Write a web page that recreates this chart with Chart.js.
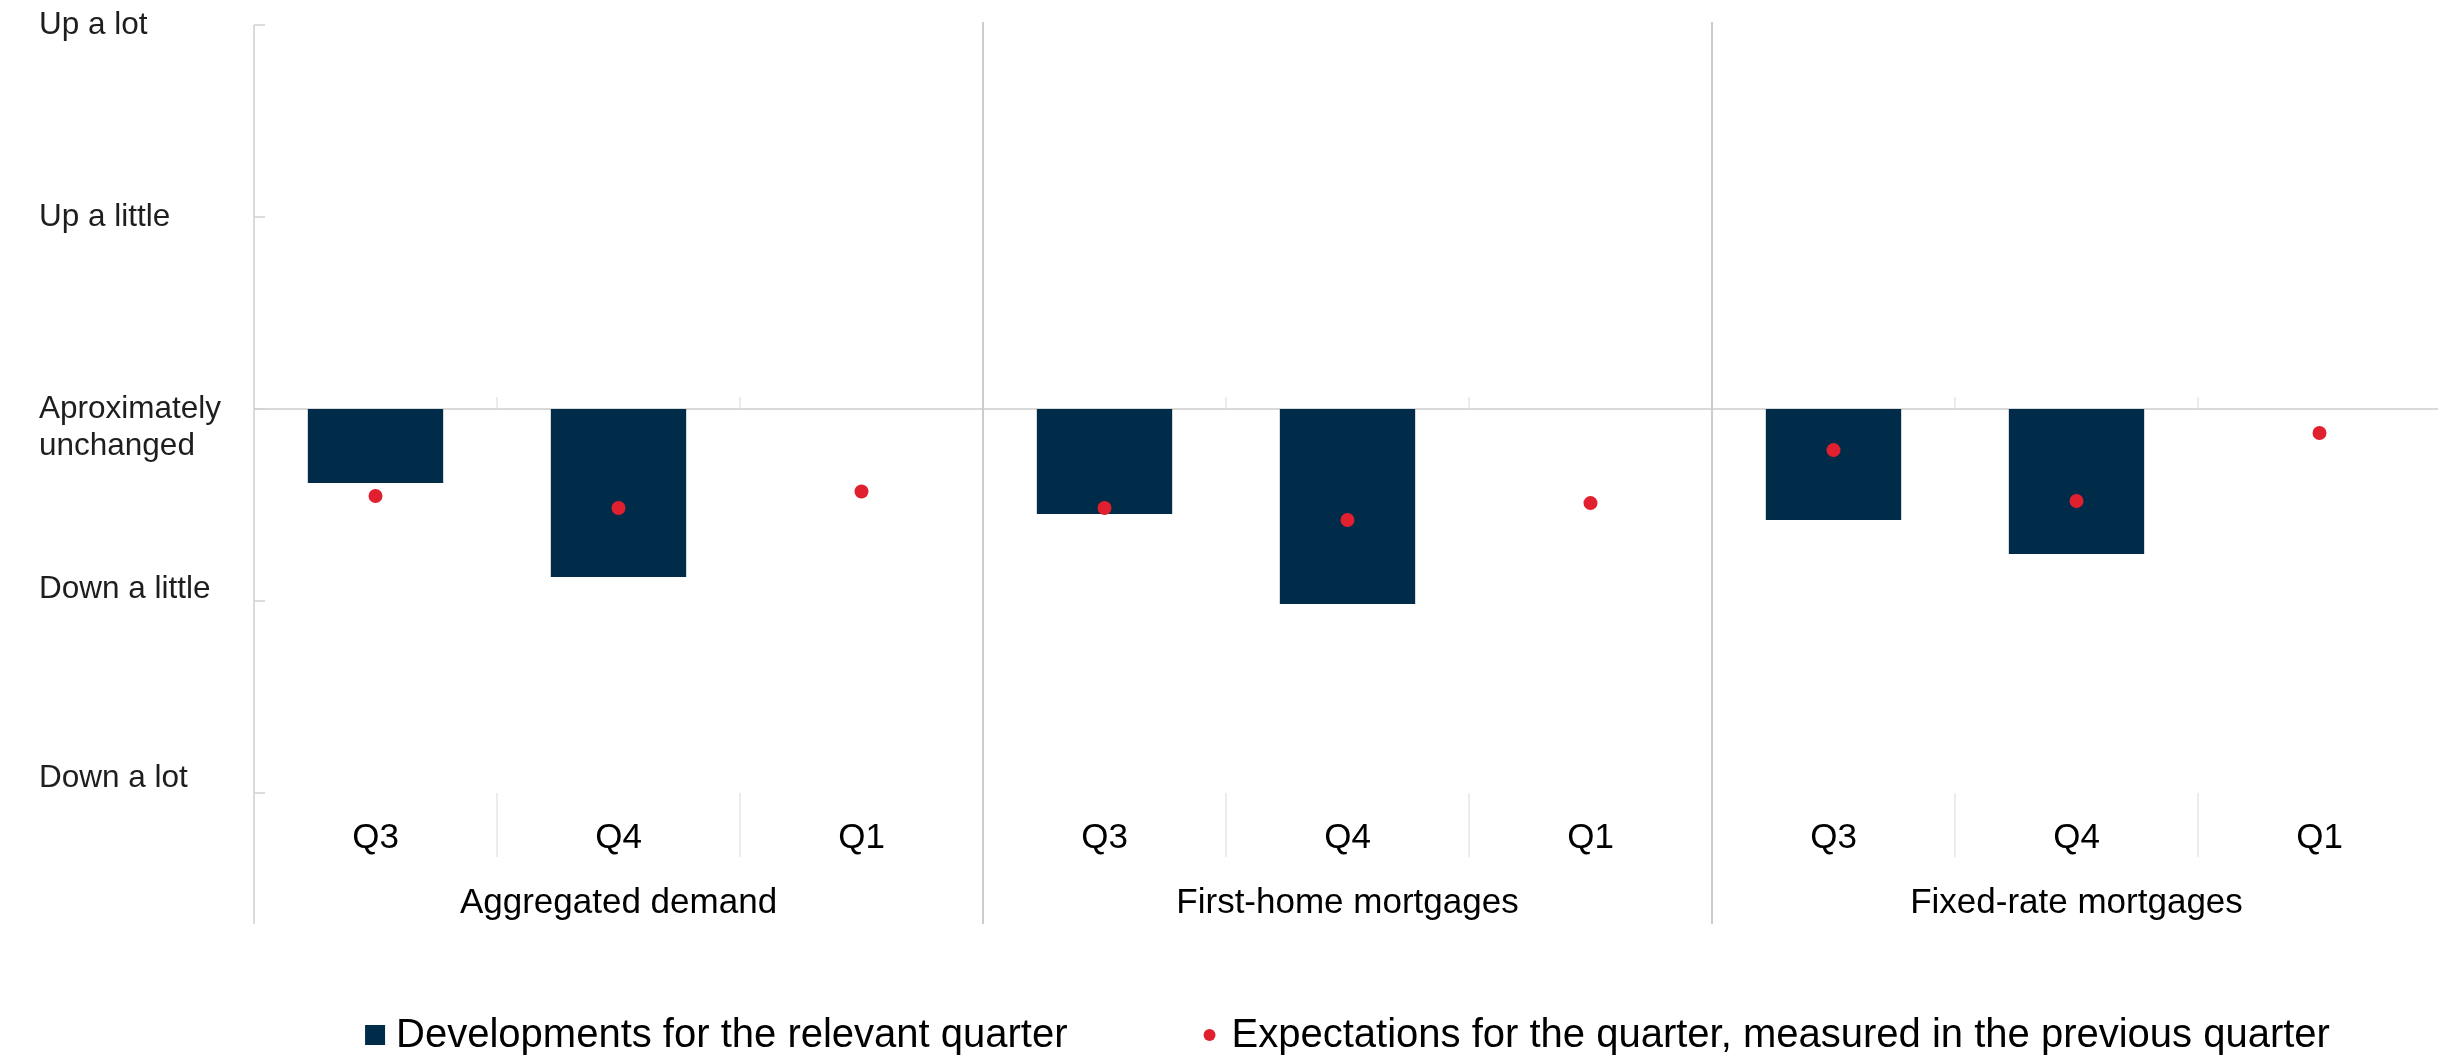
<!DOCTYPE html>
<html>
<head>
<meta charset="utf-8">
<script src="https://cdn.jsdelivr.net/npm/chart.js@4.4.1/dist/chart.umd.min.js"></script>
<style>
  html, body { margin: 0; padding: 0; background: #fff; overflow: hidden; }
  #wrap { position: relative; width: 2448px; height: 1057px; }
</style>
</head>
<body>
<div id="wrap"><canvas id="chart"></canvas></div>
<script>
var categories = ['Q3', 'Q4', 'Q1', 'Q3', 'Q4', 'Q1', 'Q3', 'Q4', 'Q1'];
var groups = ['Aggregated demand', 'First-home mortgages', 'Fixed-rate mortgages'];
var developments = [-0.385, -0.875, null, -0.547, -1.016, null, -0.578, -0.755, null];
var expectations = [-0.453, -0.516, -0.43, -0.516, -0.578, -0.49, -0.214, -0.479, -0.125];
var yTickLabels = ['Down a lot', 'Down a little', ['Aproximately', 'unchanged'], 'Up a little', 'Up a lot'];
var seriesNames = ['Developments for the relevant quarter', 'Expectations for the quarter, measured in the previous quarter'];

var navy = '#002b49';
var red = '#e0202e';
var FONT = "'Liberation Sans', Arial, sans-serif";
Chart.defaults.font.family = FONT;

// axis lines, tick marks and the category "table" under the plot, Excel style
var frame = {
  id: 'frame',
  beforeDatasetsDraw: function (chart) {
    var ctx = chart.ctx, area = chart.chartArea;
    var x = chart.scales.x, y = chart.scales.y;
    var y0 = y.getPixelForValue(0);
    var half = (x.getPixelForValue(1) - x.getPixelForValue(0)) / 2;
    var qBottom = area.bottom + 64;
    var tableBottom = area.bottom + 131;
    ctx.save();
    ctx.strokeStyle = '#d9d9d9';
    ctx.lineWidth = 2;
    ctx.beginPath();
    ctx.moveTo(area.left, y0);
    ctx.lineTo(area.right, y0);
    ctx.stroke();

    ctx.strokeStyle = '#d0d0d0';
    ctx.lineWidth = 1.5;
    ctx.beginPath();
    ctx.moveTo(area.left, area.top);
    ctx.lineTo(area.left, tableBottom);
    for (var v = -2; v <= 2; v++) {
      var ty = y.getPixelForValue(v);
      ctx.moveTo(area.left, ty);
      ctx.lineTo(area.left + 11, ty);
    }
    ctx.stroke();

    for (var i = 1; i < categories.length; i++) {
      var bx = x.getPixelForValue(i) - half;
      ctx.beginPath();
      if (i % 3 === 0) {
        ctx.strokeStyle = '#cccccc';
        ctx.lineWidth = 2;
        ctx.moveTo(bx, area.top - 3);
        ctx.lineTo(bx, tableBottom);
      } else {
        ctx.strokeStyle = '#e0e0e0';
        ctx.lineWidth = 1.2;
        ctx.moveTo(bx, y0 - 12);
        ctx.lineTo(bx, y0);
        ctx.moveTo(bx, area.bottom);
        ctx.lineTo(bx, qBottom);
      }
      ctx.stroke();
    }
    ctx.restore();
  },
  afterDraw: function (chart) {
    var ctx = chart.ctx, area = chart.chartArea, x = chart.scales.x;
    ctx.save();
    ctx.fillStyle = '#000';
    ctx.font = '35px ' + FONT;
    ctx.textAlign = 'center';
    ctx.textBaseline = 'middle';
    groups.forEach(function (g, k) {
      ctx.fillText(g, x.getPixelForValue(k * 3 + 1), area.bottom + 110);
    });

    // legend, centred under the plot area
    ctx.font = '40px ' + FONT;
    ctx.textAlign = 'left';
    var w1 = ctx.measureText(seriesNames[0]).width;
    var w2 = ctx.measureText(seriesNames[1]).width;
    var total = 31 + w1 + 136 + 28 + w2;
    var lx = (area.left + area.right) / 2 - total / 2;
    var ly = 1035;
    ctx.fillStyle = navy;
    ctx.fillRect(lx, ly - 10, 20, 20);
    ctx.fillStyle = '#000';
    ctx.fillText(seriesNames[0], lx + 31, ly + 1);
    var dx = lx + 31 + w1 + 136;
    ctx.fillStyle = red;
    ctx.beginPath();
    ctx.arc(dx + 6, ly, 6, 0, Math.PI * 2);
    ctx.fill();
    ctx.fillStyle = '#000';
    ctx.fillText(seriesNames[1], dx + 28, ly + 1);
    ctx.restore();
  }
};

// the lower y labels sit a little above their ticks in the original
var labelLift = { '-1': 12, '-2': 15 };

var ctx = document.getElementById('chart').getContext('2d');
var myChart = new Chart(ctx, {
  type: 'bar',
  data: {
    labels: categories,
    datasets: [{
      type: 'line',
      label: seriesNames[1],
      data: expectations,
      showLine: false,
      pointRadius: 7,
      pointHoverRadius: 7,
      pointBackgroundColor: red,
      pointBorderWidth: 0,
      order: 0
    }, {
      type: 'bar',
      label: seriesNames[0],
      data: developments,
      backgroundColor: navy,
      barPercentage: 0.557,
      categoryPercentage: 1,
      order: 1
    }]
  },
  options: {
    responsive: true,
    maintainAspectRatio: false,
    animation: false,
    layout: { padding: { left: 39, right: 1, top: 25, bottom: 184 } },
    plugins: {
      legend: { display: false },
      tooltip: { enabled: false }
    },
    scales: {
      x: {
        grid: { display: false },
        border: { display: false },
        ticks: { color: '#000', font: { size: 35 }, padding: 16, maxRotation: 0, autoSkip: false },
        afterFit: function (s) { s.height = 80; }
      },
      y: {
        min: -2,
        max: 2,
        grid: { display: false },
        border: { display: false },
        ticks: {
          stepSize: 1,
          color: '#1e1e1e',
          font: function (c) {
            var lift = c.tick ? labelLift[c.tick.value] : null;
            return { size: 31.5, lineHeight: lift ? (2 * lift) + 'px' : '37px' };
          },
          crossAlign: 'far',
          padding: 0,
          callback: function (value) {
            var l = yTickLabels[value + 2];
            // keep the first line of the wrapped label level with its tick
            if (Array.isArray(l)) return [''].concat(l);
            return labelLift[value] ? [l, ''] : l;
          }
        },
        afterFit: function (s) { s.width = 215; }
      }
    }
  },
  plugins: [frame]
});
</script>
</body>
</html>
